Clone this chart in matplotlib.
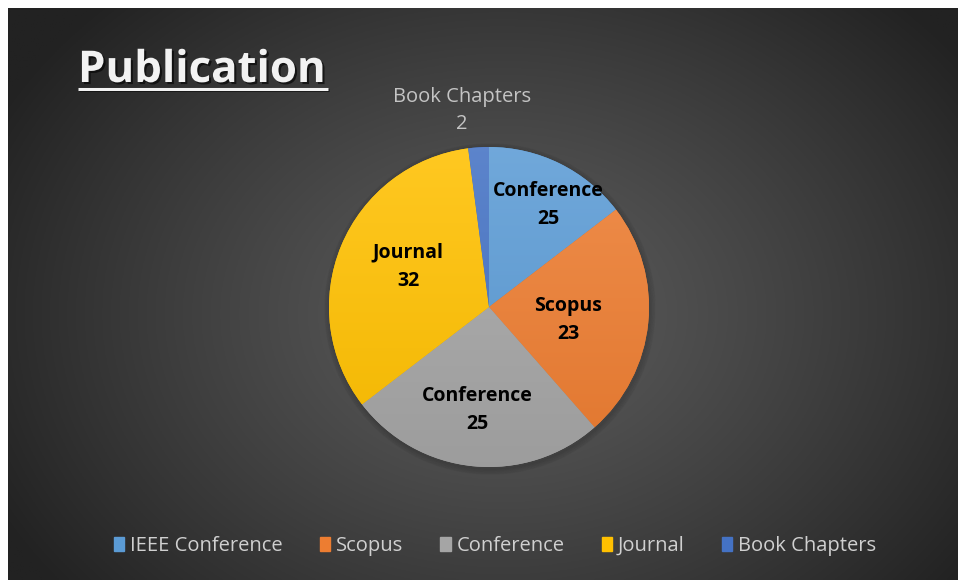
import numpy as np
import matplotlib
matplotlib.use("Agg")
from matplotlib import pyplot as plt
from matplotlib import patheffects as pe
from matplotlib.colors import to_rgb

# legend categories and what each wedge shows
categories = ["IEEE Conference", "Scopus", "Conference", "Journal", "Book Chapters"]
# wedge sizes as drawn in the picture (measured from the slice angles)
wedge_values = [14, 23, 25, 32, 2]
# numbers printed on the slices
label_values = [25, 23, 25, 32, 2]
label_names = ["Conference", "Scopus", "Conference", "Journal", "Book Chapters"]

colors = ["#5B9BD5", "#ED7D31", "#A5A5A5", "#FFC000", "#4472C4"]
# label placement: fraction of radius, angle shift from wedge middle (deg)
label_radius = [0.74, 0.50, 0.65, 0.565, 1.24]
label_shift = [-4, -3.7, -1, -3.8, 4]

plt.rcParams["font.family"] = ["Open Sans", "DejaVu Sans"]

W, H = 958, 580
fig = plt.figure(figsize=(W / 100, H / 100), dpi=100, facecolor="white")

# background with radial gradient
bg = fig.add_axes([8 / W, 0, 1 - 8 / W, 1 - 8 / H])
bg.set_axis_off()
yy, xx = np.mgrid[0:300, 0:500]
cx, cy = 260, 160
d = np.sqrt(((xx - cx) / 300) ** 2 + ((yy - cy) / 230) ** 2)
d = np.clip(d, 0, 1)
c0, c1 = 0x5c / 255, 0x22 / 255
img = c0 + (c1 - c0) * d ** 1.2
bg.imshow(np.dstack([img, img, img]), aspect="auto", extent=[0, 1, 0, 1])
bg.set_xlim(0, 1)
bg.set_ylim(0, 1)

ax = fig.add_axes([0, 0, 1, 1])
ax.set_axis_off()
ax.patch.set_alpha(0)

center = (489, H - 307)
R = 160

# soft shadow behind the pie
for i in range(4):
    sh = plt.Circle((center[0] + 1, center[1] - 2), R + 5 - i * 1.5, color="black",
                    alpha=0.035, zorder=1)
    ax.add_patch(sh)

wedges, _ = ax.pie(wedge_values, colors=colors, startangle=90, counterclock=False,
                   center=center, radius=R, frame=True,
                   wedgeprops=dict(linewidth=0, zorder=2))

# light-to-dark vertical shading clipped to each wedge
g = np.linspace(0, 1, 200)[:, None]
for w, c in zip(wedges, colors):
    rgb = np.array(to_rgb(c))
    top = rgb + (1 - rgb) * 0.13
    bot = rgb * 0.95
    grad = top[None, None, :] * (1 - g[..., None]) + bot[None, None, :] * g[..., None]
    grad = np.repeat(grad, 2, axis=1)
    im = ax.imshow(grad, extent=[center[0] - R, center[0] + R, center[1] - R, center[1] + R],
                   aspect="auto", zorder=3, interpolation="bilinear")
    im.set_clip_path(w)
ax.set_xlim(0, W)
ax.set_ylim(0, H)
ax.set_axis_off()

# slice labels
for w, name, val, rf, sh in zip(wedges, label_names, label_values, label_radius, label_shift):
    mid = np.deg2rad((w.theta1 + w.theta2) / 2 + sh)
    x = center[0] + rf * R * np.cos(mid)
    y = center[1] + rf * R * np.sin(mid)
    if rf > 1:
        ax.text(x, y, f"{name}\n{val}", ha="center", va="center", fontsize=14.5,
                color="#c4c4c4", linespacing=1.45, zorder=5)
    else:
        ax.text(x, y, f"{name}\n{val}", ha="center", va="center", fontsize=14,
                fontweight="bold", color="black", linespacing=1.55, zorder=5)

# title with underline
shadow = [pe.withSimplePatchShadow(offset=(1.5, -1.5), shadow_rgbFace="black", alpha=0.6)]
ax.text(78, H - 82, "Publication", fontsize=31.5, fontweight="bold", color="#f2f2f2",
        ha="left", va="baseline", zorder=5, path_effects=shadow)
ax.plot([78, 328], [H - 89, H - 89], color="#f2f2f2", lw=2.2, zorder=5,
        solid_capstyle="butt", path_effects=[pe.SimpleLineShadow(offset=(1, -1), alpha=0.6),
                                             pe.Normal()])

# legend
handles = [plt.Rectangle((0, 0), 1, 1, color=c) for c in colors]
leg = ax.legend(handles, categories, loc="center", bbox_to_anchor=(495 / W, 1 - 546 / H),
                ncol=5, frameon=False, fontsize=14.5, handlelength=0.5, handleheight=0.7,
                handletextpad=0.3, columnspacing=1.85, labelcolor="#d0d0d0")

fig.savefig("out.png", dpi=100, facecolor=fig.get_facecolor())
